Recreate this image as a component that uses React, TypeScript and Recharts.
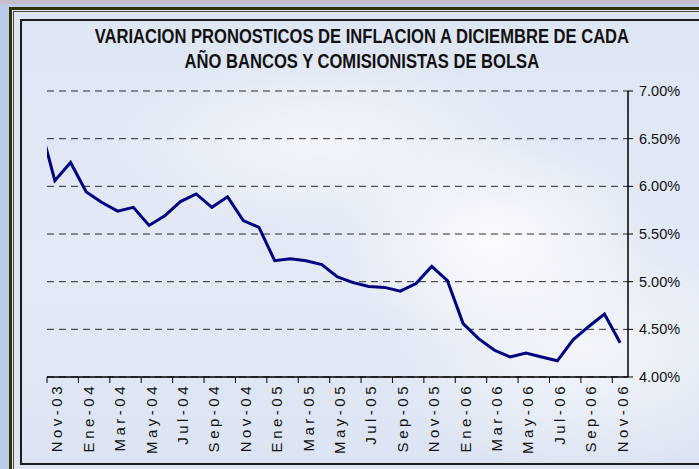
import { LineChart, Line, XAxis, YAxis, CartesianGrid } from 'recharts';

// Oct-03 sits just left of the plot and is clipped away, as in the original
const months = [
  'Oct-03', 'Nov-03', 'Dic-03',
  'Ene-04', 'Feb-04', 'Mar-04', 'Abr-04', 'May-04', 'Jun-04', 'Jul-04', 'Ago-04', 'Sep-04', 'Oct-04', 'Nov-04', 'Dic-04',
  'Ene-05', 'Feb-05', 'Mar-05', 'Abr-05', 'May-05', 'Jun-05', 'Jul-05', 'Ago-05', 'Sep-05', 'Oct-05', 'Nov-05', 'Dic-05',
  'Ene-06', 'Feb-06', 'Mar-06', 'Abr-06', 'May-06', 'Jun-06', 'Jul-06', 'Ago-06', 'Sep-06', 'Oct-06', 'Nov-06',
];

const inflacion = [
  6.68, 6.06, 6.25,
  5.94, 5.83, 5.74, 5.78, 5.59, 5.69, 5.84, 5.92, 5.78, 5.89, 5.64, 5.57,
  5.22, 5.24, 5.22, 5.18, 5.05, 4.99, 4.95, 4.94, 4.90, 4.98, 5.16, 5.01,
  4.56, 4.40, 4.28, 4.21, 4.25, 4.21, 4.17, 4.39, 4.53, 4.66, 4.36,
];

const yTicks = [4, 4.5, 5, 5.5, 6, 6.5, 7];
const xTicks = [0, 2, 4, 6, 8, 10, 12, 14, 16, 18, 20, 22, 24, 26, 28, 30, 32, 34, 36];

const data = months.map((m, i) => ({ idx: i - 1, mes: m, valor: inflacion[i] }));

const W = 699;
const H = 469;
const LEFT = 47;
const RIGHT_AXIS_W = 71;
const PLOT_W = W - LEFT - RIGHT_AXIS_W;
const HALF_CAT = PLOT_W / 37 / 2;
const FONT = "'Liberation Sans', Arial, sans-serif";

const MonthTick = (props: any) => {
  const { x, y, payload } = props;
  const label = months[payload.value + 1];
  return (
    <g>
      <line x1={x - HALF_CAT} y1={y - 6} x2={x - HALF_CAT} y2={y} stroke="#000" strokeWidth={1} />
      <text
        x={0}
        y={0}
        transform={`translate(${x + 2},${y}) rotate(-90)`}
        textAnchor="end"
        dominantBaseline="central"
        fontSize={15}
        letterSpacing={3.5}
        fill="#111"
        fontFamily={FONT}
      >
        {label}
      </text>
    </g>
  );
};

export default function App() {
  return (
    <div style={{ position: 'absolute', left: 0, top: 0, width: W, height: H, overflow: 'hidden', background: '#bccbe9' }}>
      <div style={{ position: 'absolute', left: 0, top: 0, width: W, height: 4, background: '#c6bfc9' }} />
      <div
        style={{
          position: 'absolute', left: 9, top: 7, width: 720, height: 480,
          background: '#dde4f2', borderLeft: '3px solid #2f3300', borderTop: '3px solid #2f3300',
        }}
      />
      <div
        style={{
          position: 'absolute', left: 13, top: 11, width: 720, height: 480,
          borderLeft: '1px solid #4a4a40', borderTop: '1px solid #4a4a40',
        }}
      />
      <div
        style={{
          position: 'absolute', left: 20, top: 19, width: 700, height: 442,
          border: '2px solid #1c1c1c',
          background:
            'radial-gradient(ellipse 160px 110px at 470px 220px, rgba(255,255,255,0.85), rgba(255,255,255,0)),' +
            'radial-gradient(ellipse 220px 90px at 300px 120px, rgba(255,255,255,0.6), rgba(255,255,255,0)),' +
            'radial-gradient(ellipse 200px 120px at 560px 330px, rgba(255,255,255,0.6), rgba(255,255,255,0)),' +
            'linear-gradient(180deg, #dfe6f3 0%, #e3e9f5 60%, #dde4f1 100%)',
        }}
      />
      <div
        style={{
          position: 'absolute', left: 20, top: 24, width: 684, textAlign: 'center',
          fontFamily: FONT, fontWeight: 'bold', fontSize: 19.5, lineHeight: '25px', color: '#111',
          transform: 'scaleX(0.85)', transformOrigin: '341px 0',
        }}
      >
        VARIACION PRONOSTICOS DE INFLACION A DICIEMBRE DE CADA
        <br />
        AÑO BANCOS Y COMISIONISTAS DE BOLSA
      </div>
      <div style={{ position: 'absolute', left: 0, top: 0 }}>
        <LineChart width={W} height={H} data={data} margin={{ top: 91, right: 0, left: LEFT, bottom: 0 }}>
          <CartesianGrid vertical={false} stroke="#2a2a2a" strokeDasharray="7 5" />
          <XAxis
            dataKey="idx"
            type="number"
            domain={[-0.5, 36.5]}
            allowDataOverflow
            ticks={xTicks}
            interval={0}
            height={92}
            tickLine={false}
            tickSize={6}
            tickMargin={0}
            axisLine={{ stroke: '#000', strokeWidth: 1.5 }}
            tick={<MonthTick />}
          />
          <YAxis
            orientation="right"
            width={RIGHT_AXIS_W}
            domain={[4, 7]}
            ticks={yTicks}
            allowDataOverflow
            tickFormatter={(v: number) => v.toFixed(2) + '%'}
            tickSize={5}
            tickMargin={6}
            axisLine={{ stroke: '#000', strokeWidth: 1.5 }}
            tickLine={{ stroke: '#000' }}
            tick={{ fontSize: 14.5, fill: '#111', fontFamily: FONT, textAnchor: 'start' }}
          />
          <Line
            type="linear"
            dataKey="valor"
            stroke="#000080"
            strokeWidth={3}
            dot={false}
            isAnimationActive={false}
          />
        </LineChart>
      </div>
    </div>
  );
}
